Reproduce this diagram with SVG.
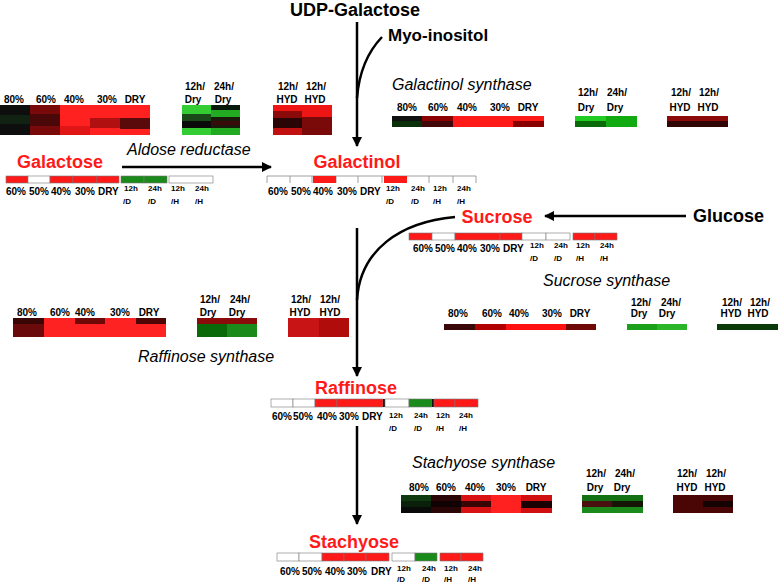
<svg xmlns="http://www.w3.org/2000/svg" width="778" height="583" viewBox="0 0 778 583">
<style>
.t{font-family:"Liberation Sans",Arial,sans-serif;font-weight:bold;fill:#000}
.p{font-family:"Liberation Sans",Arial,sans-serif;font-weight:bold;font-size:10px;fill:#000;text-anchor:middle}
.s{font-family:"Liberation Sans",Arial,sans-serif;font-weight:bold;font-size:10px;fill:#000}
.h{font-family:"Liberation Sans",Arial,sans-serif;font-weight:bold;font-size:8px;fill:#000}
.m{font-family:"Liberation Sans",Arial,sans-serif;font-weight:bold;font-size:18px;fill:#ff1a1a;text-anchor:middle}
.e{font-family:"Liberation Sans",Arial,sans-serif;font-style:italic;font-size:16px;fill:#000}
.ln{fill:none;stroke:#000;stroke-width:2.5}
.b{stroke:#777;stroke-width:0.6}
.R{fill:#ff1a1a}.W{fill:#fff}.G{fill:#1a8a1a}
</style>
<defs>
<marker id="ah" viewBox="0 0 10 10" refX="9" refY="5" markerWidth="4" markerHeight="4" orient="auto" markerUnits="strokeWidth">
<path d="M0,0 L10,5 L0,10 Z" fill="#000"/>
</marker>
</defs>

<g id="connectors">
<path class="ln" d="M357,22 L357,146" marker-end="url(#ah)"/>
<path class="ln" d="M382,37 Q360,60 357,98"/>
<path class="ln" d="M122,167 L271,167" marker-end="url(#ah)"/>
<path class="ln" d="M686,216 L545,216" marker-end="url(#ah)"/>
<path class="ln" d="M357,228 L357,376" marker-end="url(#ah)"/>
<path class="ln" d="M455,217 C400,222 360,250 357,300"/>
<path class="ln" d="M357,426 L357,524" marker-end="url(#ah)"/>
</g>

<g id="udp-galactose"><text class="t" x="355" y="16" font-size="18" text-anchor="middle">UDP-Galactose</text></g>
<g id="myo-inositol"><text class="t" x="388" y="41" font-size="17">Myo-inositol</text></g>
<g id="glucose"><text class="t" x="693" y="222" font-size="18">Glucose</text></g>

<g id="enzyme-labels">
<text class="e" x="392" y="90">Galactinol synthase</text>
<text class="e" x="127" y="155">Aldose reductase</text>
<text class="e" x="543" y="286">Sucrose synthase</text>
<text class="e" x="138" y="362">Raffinose synthase</text>
<text class="e" x="412" y="468">Stachyose synthase</text>
</g>

<!-- heatmap top-left (aldose reductase) -->
<g id="heatmap-aldose">
<text class="p" x="14" y="103">80%</text><text class="p" x="46" y="103">60%</text><text class="p" x="74" y="103">40%</text><text class="p" x="107" y="103">30%</text><text class="p" x="135" y="103">DRY</text>
<rect x="0" y="105" width="30" height="30" fill="#0e0e0e"/>
<rect x="0" y="115" width="30" height="9" fill="#122212"/>
<rect x="30" y="105" width="30" height="30" fill="#7a0a0a"/>
<rect x="30" y="114" width="30" height="12" fill="#4a0808"/>
<rect x="60" y="105" width="90" height="30" fill="#ff2020"/>
<rect x="60" y="126" width="30" height="9" fill="#e01515"/>
<rect x="90" y="118" width="30" height="10" fill="#b01010"/>
<rect x="120" y="118" width="30" height="11" fill="#5a0a0a"/>
<text class="p" x="195" y="90">12h/</text><text class="p" x="224" y="90">24h/</text>
<text class="p" x="193" y="103">Dry</text><text class="p" x="223" y="103">Dry</text>
<rect x="182" y="105" width="29" height="30" fill="#33cc33"/>
<rect x="182" y="114" width="29" height="7" fill="#1a4a1a"/>
<rect x="182" y="121" width="29" height="7" fill="#0a0a0a"/>
<rect x="211" y="105" width="29" height="30" fill="#22aa22"/>
<rect x="211" y="105" width="29" height="5" fill="#0a1a0a"/>
<rect x="211" y="117" width="29" height="11" fill="#1a1a0a"/>
<rect x="211" y="121" width="29" height="4" fill="#3a0a0a"/>
<text class="p" x="288" y="90">12h/</text><text class="p" x="316" y="90">12h/</text>
<text class="p" x="287" y="103">HYD</text><text class="p" x="315" y="103">HYD</text>
<rect x="273" y="105" width="59" height="30" fill="#ee1515"/>
<rect x="273" y="111" width="29" height="7" fill="#8b0a0a"/>
<rect x="273" y="118" width="29" height="10" fill="#2a0505"/>
<rect x="273" y="128" width="29" height="7" fill="#c01010"/>
<rect x="302" y="117" width="30" height="18" fill="#7a0a0a"/>
</g>

<!-- heatmap galactinol synthase -->
<g id="heatmap-galactinol-synthase">
<text class="p" x="407" y="111">80%</text><text class="p" x="438" y="111">60%</text><text class="p" x="467" y="111">40%</text><text class="p" x="500" y="111">30%</text><text class="p" x="528" y="111">DRY</text>
<rect x="392" y="116" width="30" height="11" fill="#0a300a"/>
<rect x="392" y="116" width="30" height="5" fill="#111"/>
<rect x="422" y="116" width="31" height="11" fill="#400808"/>
<rect x="422" y="116" width="31" height="5" fill="#8b0000"/>
<rect x="453" y="116" width="91" height="11" fill="#ff1a1a"/>
<rect x="513" y="121" width="31" height="6" fill="#880000"/>
<text class="p" x="588" y="96">12h/</text><text class="p" x="617" y="96">24h/</text>
<text class="p" x="586" y="111">Dry</text><text class="p" x="615" y="111">Dry</text>
<rect x="575" y="116" width="31" height="11" fill="#0a6a0a"/>
<rect x="575" y="116" width="31" height="5" fill="#22cc22"/>
<rect x="606" y="116" width="31" height="11" fill="#11aa11"/>
<text class="p" x="681" y="96">12h/</text><text class="p" x="709" y="96">12h/</text>
<text class="p" x="680" y="111">HYD</text><text class="p" x="708" y="111">HYD</text>
<rect x="667" y="116" width="61" height="11" fill="#300505"/>
<rect x="667" y="116" width="61" height="5" fill="#8b0a0a"/>
</g>

<!-- Galactose -->
<g id="galactose">
<text class="m" x="60" y="168">Galactose</text>
<rect class="b R" x="6" y="176" width="22" height="7"/>
<rect class="b W" x="28" y="176" width="22" height="7"/>
<rect class="b R" x="50" y="176" width="23" height="7"/>
<rect class="b R" x="73" y="176" width="24" height="7"/>
<rect class="b R" x="97" y="176" width="22" height="7"/>
<rect class="b G" x="121" y="176" width="23" height="7"/>
<rect class="b G" x="144" y="176" width="23" height="7"/>
<rect class="b W" x="169" y="176" width="44" height="7"/>
<text class="s" x="6" y="195">60%</text><text class="s" x="29" y="195">50%</text><text class="s" x="51" y="195">40%</text><text class="s" x="75" y="195">30%</text><text class="s" x="98" y="195">DRY</text>
<text class="h" x="124" y="191">12h</text><text class="h" x="148" y="191">24h</text><text class="h" x="171" y="191">12h</text><text class="h" x="195" y="191">24h</text>
<text class="h" x="123" y="204">/D</text><text class="h" x="148" y="204">/D</text><text class="h" x="171" y="204">/H</text><text class="h" x="195" y="204">/H</text>
</g>

<!-- Galactinol -->
<g id="galactinol">
<text class="m" x="357" y="168">Galactinol</text>
<path d="M267,183 V176 H476 V183 M290,176 V183 M312,176 V183 M336,176 V183 M358,176 V183 M382,176 V183 M406,176 V183 M429,176 V183 M453,176 V183" fill="none" stroke="#888" stroke-width="0.8"/>
<rect class="R" x="313" y="176" width="23" height="7"/>
<rect class="R" x="384" y="176" width="23" height="7"/>
<text class="s" x="268" y="195">60%</text><text class="s" x="291" y="195">50%</text><text class="s" x="313" y="195">40%</text><text class="s" x="337" y="195">30%</text><text class="s" x="360" y="195">DRY</text>
<text class="h" x="386" y="191">12h</text><text class="h" x="411" y="191">24h</text><text class="h" x="433" y="191">12h</text><text class="h" x="457" y="191">24h</text>
<text class="h" x="386" y="204">/D</text><text class="h" x="411" y="204">/D</text><text class="h" x="433" y="204">/H</text><text class="h" x="457" y="204">/H</text>
</g>

<!-- Sucrose -->
<g id="sucrose">
<text class="m" x="497" y="223">Sucrose</text>
<rect class="b R" x="409" y="233" width="23" height="7"/>
<rect class="b W" x="432" y="233" width="23" height="7"/>
<rect class="b R" x="455" y="233" width="45" height="7"/>
<rect class="b R" x="500" y="233" width="22" height="7"/>
<rect class="b W" x="522" y="233" width="24" height="7"/>
<rect class="b W" x="546" y="233" width="24" height="7"/>
<rect class="b R" x="573" y="233" width="22" height="7"/>
<rect class="b R" x="595" y="233" width="22" height="7"/>
<text class="s" x="413" y="252">60%</text><text class="s" x="435" y="252">50%</text><text class="s" x="457" y="252">40%</text><text class="s" x="480" y="252">30%</text><text class="s" x="503" y="252">DRY</text>
<text class="h" x="530" y="248">12h</text><text class="h" x="554" y="248">24h</text><text class="h" x="576" y="248">12h</text><text class="h" x="600" y="248">24h</text>
<text class="h" x="530" y="261">/D</text><text class="h" x="554" y="261">/D</text><text class="h" x="576" y="261">/H</text><text class="h" x="600" y="261">/H</text>
</g>

<!-- heatmap sucrose synthase -->
<g id="heatmap-sucrose-synthase">
<text class="p" x="458" y="317">80%</text><text class="p" x="492" y="317">60%</text><text class="p" x="519" y="317">40%</text><text class="p" x="552" y="317">30%</text><text class="p" x="580" y="317">DRY</text>
<rect x="444" y="324" width="31" height="6" fill="#3a0808"/>
<rect x="475" y="324" width="31" height="6" fill="#b00000"/>
<rect x="506" y="324" width="60" height="6" fill="#ff1111"/>
<rect x="566" y="324" width="30" height="6" fill="#700808"/>
<text class="p" x="641" y="306">12h/</text><text class="p" x="671" y="306">24h/</text>
<text class="p" x="639" y="317">Dry</text><text class="p" x="667" y="317">Dry</text>
<rect x="627" y="324" width="30" height="6" fill="#1aa01a"/>
<rect x="657" y="324" width="30" height="6" fill="#2ab52a"/>
<text class="p" x="732" y="306">12h/</text><text class="p" x="760" y="306">12h/</text>
<text class="p" x="731" y="317">HYD</text><text class="p" x="758" y="317">HYD</text>
<rect x="717" y="324" width="61" height="6" fill="#0a3a0a"/>
</g>

<!-- heatmap raffinose synthase -->
<g id="heatmap-raffinose-synthase">
<text class="p" x="27" y="316">80%</text><text class="p" x="60" y="316">60%</text><text class="p" x="85" y="316">40%</text><text class="p" x="120" y="316">30%</text><text class="p" x="149" y="316">DRY</text>
<rect x="13" y="318" width="31" height="19" fill="#6a0a0a"/>
<rect x="13" y="318" width="31" height="6" fill="#3a0505"/>
<rect x="44" y="318" width="122" height="19" fill="#ff2222"/>
<rect x="75" y="318" width="30" height="6" fill="#700808"/>
<rect x="136" y="318" width="30" height="6" fill="#500505"/>
<text class="p" x="210" y="303">12h/</text><text class="p" x="240" y="303">24h/</text>
<text class="p" x="208" y="316">Dry</text><text class="p" x="237" y="316">Dry</text>
<rect x="197" y="318" width="60" height="6" fill="#8b0a0a"/>
<rect x="197" y="324" width="30" height="13" fill="#0a6a0a"/>
<rect x="227" y="324" width="30" height="13" fill="#1a8a1a"/>
<text class="p" x="301" y="303">12h/</text><text class="p" x="330" y="303">12h/</text>
<text class="p" x="300" y="316">HYD</text><text class="p" x="330" y="316">HYD</text>
<rect x="288" y="318" width="31" height="19" fill="#c81414"/>
<rect x="319" y="318" width="30" height="19" fill="#b00c0c"/>
</g>

<!-- Raffinose -->
<g id="raffinose">
<text class="m" x="356" y="394">Raffinose</text>
<rect class="b W" x="271" y="399" width="22" height="8"/>
<rect class="b W" x="293" y="399" width="22" height="8"/>
<rect class="b R" x="315" y="399" width="22" height="8"/>
<rect class="b R" x="337" y="399" width="46" height="8"/>
<rect x="383" y="399" width="2" height="8" fill="#111"/>
<rect class="b W" x="385" y="399" width="24" height="8"/>
<rect class="b G" x="409" y="399" width="23" height="8"/>
<rect x="432" y="399" width="2" height="8" fill="#111"/>
<rect class="b R" x="434" y="399" width="21" height="8"/>
<rect class="b R" x="455" y="399" width="23" height="8"/>
<text class="s" x="272" y="420">60%</text><text class="s" x="293" y="420">50%</text><text class="s" x="317" y="420">40%</text><text class="s" x="339" y="420">30%</text><text class="s" x="362" y="420">DRY</text>
<text class="h" x="389" y="418">12h</text><text class="h" x="414" y="418">24h</text><text class="h" x="436" y="418">12h</text><text class="h" x="459" y="418">24h</text>
<text class="h" x="389" y="431">/D</text><text class="h" x="414" y="431">/D</text><text class="h" x="436" y="431">/H</text><text class="h" x="459" y="431">/H</text>
</g>

<!-- heatmap stachyose synthase -->
<g id="heatmap-stachyose-synthase">
<text class="p" x="419" y="491">80%</text><text class="p" x="446" y="491">60%</text><text class="p" x="475" y="491">40%</text><text class="p" x="506" y="491">30%</text><text class="p" x="536" y="491">DRY</text>
<rect x="401" y="495" width="30" height="18" fill="#0a200a"/>
<rect x="401" y="495" width="30" height="6" fill="#0f3a0f"/>
<rect x="401" y="507" width="30" height="6" fill="#0a0a0a"/>
<rect x="431" y="495" width="30" height="18" fill="#2a0505"/>
<rect x="431" y="501" width="30" height="6" fill="#100202"/>
<rect x="461" y="495" width="30" height="18" fill="#d81212"/>
<rect x="461" y="501" width="30" height="6" fill="#3a0505"/>
<rect x="491" y="495" width="30" height="18" fill="#ff2020"/>
<rect x="521" y="495" width="31" height="18" fill="#d01010"/>
<rect x="521" y="501" width="31" height="7" fill="#1a0202"/>
<text class="p" x="596" y="477">12h/</text><text class="p" x="625" y="477">24h/</text>
<text class="p" x="595" y="491">Dry</text><text class="p" x="622" y="491">Dry</text>
<rect x="582" y="495" width="61" height="18" fill="#1a8a1a"/>
<rect x="582" y="495" width="61" height="6" fill="#137013"/>
<rect x="582" y="501" width="30" height="6" fill="#4a1010"/>
<rect x="612" y="501" width="31" height="6" fill="#151505"/>
<text class="p" x="687" y="477">12h/</text><text class="p" x="716" y="477">12h/</text>
<text class="p" x="687" y="491">HYD</text><text class="p" x="715" y="491">HYD</text>
<rect x="673" y="495" width="60" height="18" fill="#4a0505"/>
<rect x="703" y="501" width="30" height="6" fill="#150202"/>
</g>

<!-- Stachyose -->
<g id="stachyose">
<text class="m" x="354" y="548">Stachyose</text>
<rect class="b W" x="277" y="553" width="22" height="8"/>
<rect class="b W" x="299" y="553" width="23" height="8"/>
<rect class="b R" x="322" y="553" width="22" height="8"/>
<rect class="b R" x="344" y="553" width="22" height="8"/>
<rect class="b R" x="366" y="553" width="23" height="8"/>
<rect class="b W" x="392" y="553" width="23" height="8"/>
<rect class="b G" x="415" y="553" width="22" height="8"/>
<rect class="b R" x="440" y="553" width="21" height="8"/>
<rect class="b R" x="461" y="553" width="22" height="8"/>
<text class="s" x="280" y="575">60%</text><text class="s" x="302" y="575">50%</text><text class="s" x="325" y="575">40%</text><text class="s" x="347" y="575">30%</text><text class="s" x="371" y="575">DRY</text>
<text class="h" x="397" y="571">12h</text><text class="h" x="422" y="571">24h</text><text class="h" x="444" y="571">12h</text><text class="h" x="468" y="571">24h</text>
<text class="h" x="397" y="582">/D</text><text class="h" x="422" y="582">/D</text><text class="h" x="444" y="582">/H</text><text class="h" x="468" y="582">/H</text>
</g>
</svg>
